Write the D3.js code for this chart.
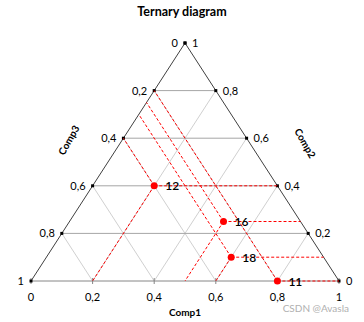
<!DOCTYPE html>
<html>
<head>
<meta charset="utf-8">
<script src="https://cdn.jsdelivr.net/npm/d3@7"></script>
<style>
  body { margin: 0; background: #fff; }
  text { font-family: Lato, "Open Sans", sans-serif; }
</style>
</head>
<body>
<svg id="chart" width="364" height="322"></svg>
<script>
// sample points: label, Comp1, Comp2 (Comp3 = 1 - Comp1 - Comp2)
var labels = ["12", "16", "18", "11"];
var comp1 = [0.2, 0.5, 0.6, 0.8];
var comp2 = [0.4, 0.25, 0.1, 0];

var gridLevels = [0.2, 0.4, 0.6, 0.8];
var tickValues = [0, 0.2, 0.4, 0.6, 0.8, 1];
var tickText = ["0", "0,2", "0,4", "0,6", "0,8", "1"];

var svg = d3.select("#chart");

var x = d3.scaleLinear().domain([0, 1]).range([31, 339]);
var y = d3.scaleLinear().domain([0, 1]).range([281, 43]);

// ternary -> plot coords
function px(c1, c2) { return x(c1 + c2 / 2); }
function py(c1, c2) { return y(c2); }

function seg(g, a, b, color, dash) {
  g.append("line")
    .attr("x1", px(a[0], a[1])).attr("y1", py(a[0], a[1]))
    .attr("x2", px(b[0], b[1])).attr("y2", py(b[0], b[1]))
    .attr("stroke", color).attr("stroke-width", 1)
    .attr("stroke-dasharray", dash || null);
}

var grid = svg.append("g");
gridLevels.forEach(function(v) {
  seg(grid, [v, 0], [v, 1 - v], "#d0d0d0");          // comp1 const
  seg(grid, [1 - v, 0], [0, 1 - v], "#d0d0d0");      // comp3 const
});
gridLevels.forEach(function(v) {
  seg(grid, [0, v], [1 - v, v], "#a6a6a6");          // comp2 const
});

// outline
seg(grid, [0, 0], [1, 0], "#868686");
seg(grid, [0, 0], [0, 1], "#404040");
seg(grid, [1, 0], [0, 1], "#404040");

// bottom ticks
tickValues.forEach(function(v) {
  grid.append("line")
    .attr("x1", x(v)).attr("x2", x(v))
    .attr("y1", y(0) - 3).attr("y2", y(0) + 3)
    .attr("stroke", "#868686");
});

// edge markers
tickValues.forEach(function(v) {
  [[0, v], [1 - v, v]].forEach(function(p) {
    grid.append("rect")
      .attr("x", px(p[0], p[1]) - 1.5).attr("y", py(p[0], p[1]) - 1.5)
      .attr("width", 3).attr("height", 3)
      .attr("fill", "#000");
  });
});

// red reading lines
var red = svg.append("g");
labels.forEach(function(l, i) {
  var c1 = comp1[i], c2 = comp2[i], c3 = 1 - c1 - c2;
  seg(red, [c1, c2], [c1, 0], "#ff0000", "3,2");
  seg(red, [c1, c2], [1 - c2, c2], "#ff0000", "3,2");
  seg(red, [c1, c2], [0, 1 - c3], "#ff0000", "3,2");
});

// points + labels
labels.forEach(function(l, i) {
  var cx = px(comp1[i], comp2[i]), cy = py(comp1[i], comp2[i]);
  svg.append("circle").attr("cx", cx).attr("cy", cy).attr("r", 3.5).attr("fill", "#ff0000");
  svg.append("text").attr("x", cx + 11).attr("y", cy + 4.5)
    .attr("font-size", 12).attr("font-weight", 600).attr("fill", "#000").text(l);
});

// tick labels
var tl = svg.append("g").attr("font-size", 11).attr("fill", "#000");
tickValues.forEach(function(v, i) {
  tl.append("text").attr("x", x(v)).attr("y", y(0) + 20)
    .attr("text-anchor", "middle").text(tickText[i]);
  // left edge: comp3 (0 at top)
  tl.append("text").attr("x", px(0, v) - 7).attr("y", py(0, v) + 4)
    .attr("text-anchor", "end").text(tickText[5 - i]);
  // right edge: comp2 (0 at bottom)
  tl.append("text").attr("x", px(1 - v, v) + 7).attr("y", py(1 - v, v) + 4)
    .attr("text-anchor", "start").text(tickText[i]);
});

// titles
svg.append("text").attr("x", 182).attr("y", 16).attr("text-anchor", "middle")
  .attr("font-size", 12.5).attr("font-weight", "bold").text("Ternary diagram");
svg.append("text").attr("x", 185).attr("y", 316).attr("text-anchor", "middle")
  .attr("font-size", 10).attr("font-weight", "bold").text("Comp1");
svg.append("text").attr("transform", "translate(72,142) rotate(-60)").attr("text-anchor", "middle")
  .attr("font-size", 10).attr("font-weight", "bold").text("Comp3");
svg.append("text").attr("transform", "translate(302,145) rotate(60)").attr("text-anchor", "middle")
  .attr("font-size", 10).attr("font-weight", "bold").text("Comp2");

svg.append("text").attr("x", 349).attr("y", 312).attr("text-anchor", "end")
  .attr("font-size", 10).attr("fill", "#b0b0b0")
  .attr("font-family", "'Liberation Sans', Arial, sans-serif").text("CSDN @Avasla");
</script>
</body>
</html>
